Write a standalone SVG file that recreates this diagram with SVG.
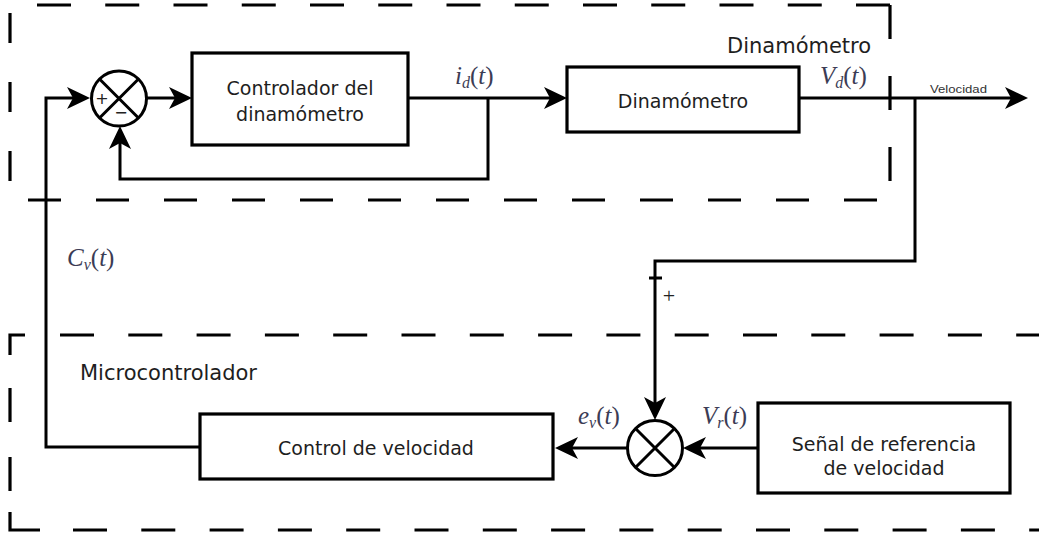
<svg xmlns="http://www.w3.org/2000/svg" width="1039" height="535" viewBox="0 0 1039 535">
<style>
.dash{stroke:#000;stroke-width:3.2;fill:none}
.box{fill:#fff;stroke:#000;stroke-width:3.2}
.wire{fill:none;stroke:#000;stroke-width:3}
.sum{fill:#fff;stroke:#000;stroke-width:3}
.t{font-family:"DejaVu Sans",Verdana,sans-serif;font-size:19px;fill:#1e1e1e;text-anchor:middle}
.lbl{font-family:"DejaVu Sans",Verdana,sans-serif;font-size:21px;fill:#1e1e1e}
.math{font-family:"Liberation Serif","Times New Roman",serif;font-size:25px;fill:#3c3c55}
.it{font-style:italic}
.sub{font-size:16px;font-style:italic}
.sign{font-family:"DejaVu Sans",sans-serif;font-size:16px;fill:#222;text-anchor:middle}
</style>
<defs>
<marker id="arr" viewBox="-7 -12 25 24" refX="0" refY="0" markerWidth="25" markerHeight="24" markerUnits="userSpaceOnUse" orient="auto">
<path d="M-6,-11 L17,0 L-6,11 L0,0 Z" fill="#000"/>
</marker>
</defs>
<rect width="1039" height="535" fill="#fff"/>

<g id="region-dinamometro">
<line class="dash" x1="37" y1="5" x2="891" y2="5" stroke-dasharray="34 34.25"/>
<line class="dash" x1="890" y1="5" x2="890" y2="182" stroke-dasharray="34 37"/>
<line class="dash" x1="10" y1="13" x2="10" y2="183" stroke-dasharray="30 39"/>
<line class="dash" x1="28" y1="200" x2="880" y2="200" stroke-dasharray="33 35"/>
<text class="lbl" x="727" y="53">Dinamómetro</text>
</g>

<g id="region-microcontrolador">
<polyline class="dash" points="25,335 10,335 10,355"/>
<line class="dash" x1="60" y1="335" x2="1039" y2="335" stroke-dasharray="34 34.3"/>
<line class="dash" x1="10" y1="388" x2="10" y2="492" stroke-dasharray="34 35"/>
<polyline class="dash" points="10,512 10,530 40,530"/>
<line class="dash" x1="73" y1="530" x2="1039" y2="530" stroke-dasharray="34 34.3"/>
<text class="lbl" x="80" y="380">Microcontrolador</text>
</g>

<g id="connectors">
<polyline class="wire" points="200,447 46,447 46,98 73,98" marker-end="url(#arr)"/>
<line class="wire" x1="147" y1="98" x2="175" y2="98" marker-end="url(#arr)"/>
<line class="wire" x1="408" y1="98" x2="550" y2="98" marker-end="url(#arr)"/>
<polyline class="wire" points="488,98 488,179 120,179 120,143" marker-end="url(#arr)"/>
<line class="wire" x1="799" y1="98" x2="1011" y2="98" marker-end="url(#arr)"/>
<polyline class="wire" points="915,98 915,261 655,261 655,403" marker-end="url(#arr)"/>
<line class="wire" x1="649" y1="278" x2="662" y2="278" stroke-width="2"/>
<line class="wire" x1="758" y1="448" x2="700" y2="448" marker-end="url(#arr)"/>
<line class="wire" x1="628" y1="448" x2="572" y2="448" marker-end="url(#arr)"/>
</g>

<g id="sum1">
<circle class="sum" cx="119" cy="98.5" r="27.5"/>
<path class="wire" d="M99.5,79 L138.5,118 M138.5,79 L99.5,118"/>
<text class="sign" x="102" y="104">+</text>
<text class="sign" x="121" y="118">−</text>
</g>

<g id="controlador">
<rect class="box" x="192" y="53" width="216" height="92"/>
<text class="t" x="300" y="95">Controlador del</text>
<text class="t" x="300" y="121">dinamómetro</text>
</g>

<g id="dinamometro">
<rect class="box" x="567" y="67" width="232" height="65"/>
<text class="t" x="683" y="108">Dinamómetro</text>
</g>

<g id="sum2">
<circle class="sum" cx="655" cy="448" r="27.5"/>
<path class="wire" d="M635.5,428.5 L674.5,467.5 M674.5,428.5 L635.5,467.5"/>
</g>

<g id="control-velocidad">
<rect class="box" x="200" y="414" width="353" height="65"/>
<text class="t" x="376" y="455">Control de velocidad</text>
</g>

<g id="senal-referencia">
<rect class="box" x="758" y="403" width="252" height="90"/>
<text class="t" x="884" y="451">Señal de referencia</text>
<text class="t" x="884" y="475">de velocidad</text>
</g>

<g id="labels">
<text class="math" x="455" y="84"><tspan class="it">i</tspan><tspan class="sub" dy="4">d</tspan><tspan dy="-4">(</tspan><tspan class="it">t</tspan>)</text>
<text class="math" x="820" y="84"><tspan class="it">V</tspan><tspan class="sub" dy="4">d</tspan><tspan dy="-4">(</tspan><tspan class="it">t</tspan>)</text>
<text class="math" x="67" y="266"><tspan class="it">C</tspan><tspan class="sub" dy="4">v</tspan><tspan dy="-4">(</tspan><tspan class="it">t</tspan>)</text>
<text class="math" x="578" y="424"><tspan class="it">e</tspan><tspan class="sub" dy="4">v</tspan><tspan dy="-4">(</tspan><tspan class="it">t</tspan>)</text>
<text class="math" x="702" y="424"><tspan class="it">V</tspan><tspan class="sub" dy="4">r</tspan><tspan dy="-4">(</tspan><tspan class="it">t</tspan>)</text>
<text x="930" y="93" font-family="'Liberation Sans',Arial,sans-serif" font-size="11" fill="#333" textLength="57" lengthAdjust="spacingAndGlyphs">Velocidad</text>
<text x="669" y="303" font-family="'Liberation Serif',serif" font-size="22" fill="#222" text-anchor="middle">+</text>
</g>
</svg>
